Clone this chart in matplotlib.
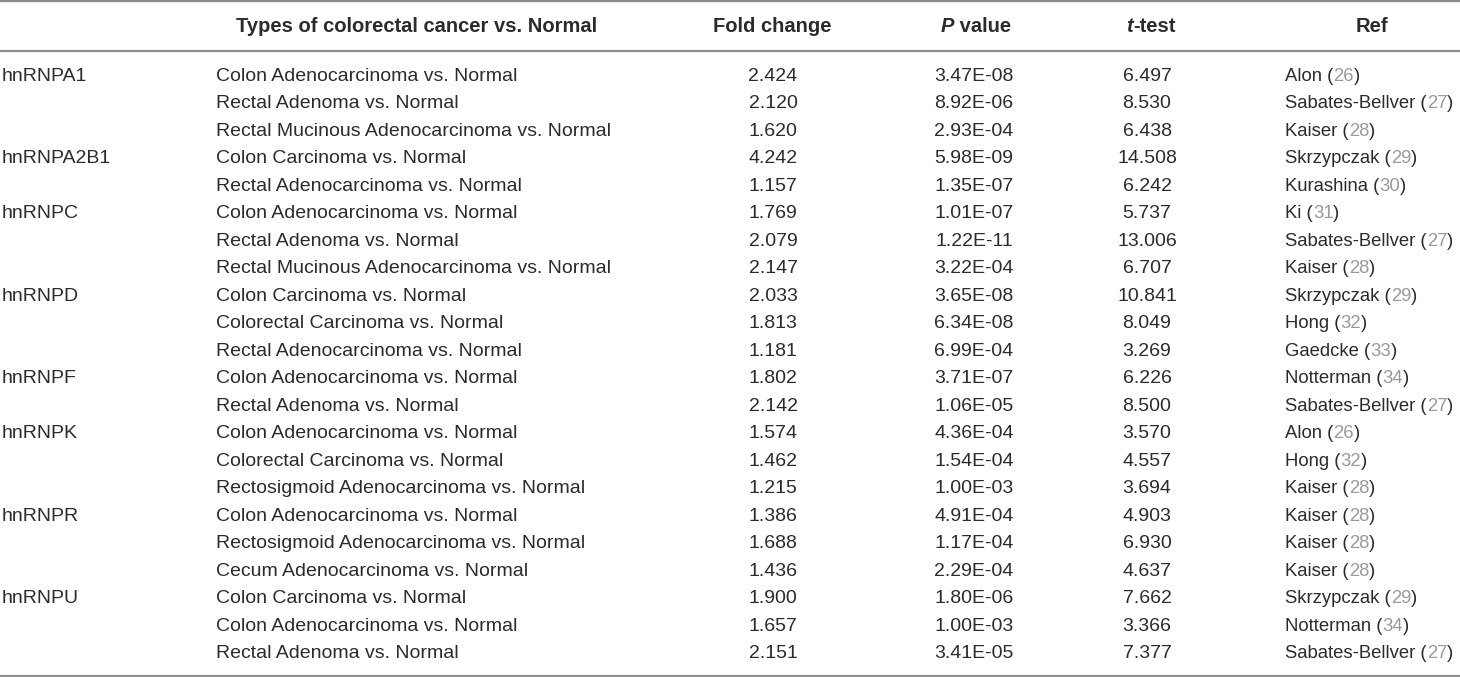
import matplotlib.pyplot as plt

genes = ["hnRNPA1", "", "", "hnRNPA2B1", "", "hnRNPC", "", "", "hnRNPD", "", "",
         "hnRNPF", "", "hnRNPK", "", "", "hnRNPR", "", "", "hnRNPU", "", ""]
types = [
    "Colon Adenocarcinoma vs. Normal",
    "Rectal Adenoma vs. Normal",
    "Rectal Mucinous Adenocarcinoma vs. Normal",
    "Colon Carcinoma vs. Normal",
    "Rectal Adenocarcinoma vs. Normal",
    "Colon Adenocarcinoma vs. Normal",
    "Rectal Adenoma vs. Normal",
    "Rectal Mucinous Adenocarcinoma vs. Normal",
    "Colon Carcinoma vs. Normal",
    "Colorectal Carcinoma vs. Normal",
    "Rectal Adenocarcinoma vs. Normal",
    "Colon Adenocarcinoma vs. Normal",
    "Rectal Adenoma vs. Normal",
    "Colon Adenocarcinoma vs. Normal",
    "Colorectal Carcinoma vs. Normal",
    "Rectosigmoid Adenocarcinoma vs. Normal",
    "Colon Adenocarcinoma vs. Normal",
    "Rectosigmoid Adenocarcinoma vs. Normal",
    "Cecum Adenocarcinoma vs. Normal",
    "Colon Carcinoma vs. Normal",
    "Colon Adenocarcinoma vs. Normal",
    "Rectal Adenoma vs. Normal",
]
fold_change = ["2.424", "2.120", "1.620", "4.242", "1.157", "1.769", "2.079", "2.147",
               "2.033", "1.813", "1.181", "1.802", "2.142", "1.574", "1.462", "1.215",
               "1.386", "1.688", "1.436", "1.900", "1.657", "2.151"]
p_values = ["3.47E-08", "8.92E-06", "2.93E-04", "5.98E-09", "1.35E-07", "1.01E-07",
            "1.22E-11", "3.22E-04", "3.65E-08", "6.34E-08", "6.99E-04", "3.71E-07",
            "1.06E-05", "4.36E-04", "1.54E-04", "1.00E-03", "4.91E-04", "1.17E-04",
            "2.29E-04", "1.80E-06", "1.00E-03", "3.41E-05"]
t_test = ["6.497", "8.530", "6.438", "14.508", "6.242", "5.737", "13.006", "6.707",
          "10.841", "8.049", "3.269", "6.226", "8.500", "3.570", "4.557", "3.694",
          "4.903", "6.930", "4.637", "7.662", "3.366", "7.377"]
ref_names = ["Alon", "Sabates-Bellver", "Kaiser", "Skrzypczak", "Kurashina", "Ki",
             "Sabates-Bellver", "Kaiser", "Skrzypczak", "Hong", "Gaedcke", "Notterman",
             "Sabates-Bellver", "Alon", "Hong", "Kaiser", "Kaiser", "Kaiser", "Kaiser",
             "Skrzypczak", "Notterman", "Sabates-Bellver"]
ref_nums = ["26", "27", "28", "29", "30", "31", "27", "28", "29", "32", "33", "34",
            "27", "26", "32", "28", "28", "28", "28", "29", "34", "27"]

W, H = 1460, 677
plt.rcParams["font.family"] = ["Liberation Sans", "DejaVu Sans"]
fig = plt.figure(figsize=(14.6, 6.77), dpi=100)
ax = fig.add_axes([0, 0, 1, 1])
ax.set_xlim(0, W)
ax.set_ylim(H, 0)
ax.axis("off")

fs = 14.0
fs_ref = 13.3
fs_head = 14.5
dark = "#2b2b2b"
gray = "#9a9a9a"

fig.canvas.draw()
renderer = fig.canvas.get_renderer()


def pieces(x, y, parts, center=False, **kw):
    # draw text parts one after another on a line; parts = [(text, extra kwargs)]
    arts = []
    for s, extra in parts:
        t = ax.text(x, y, s, ha="left", va="center", **kw, **extra)
        x += t.get_window_extent(renderer).width
        arts.append(t)
    if center:
        total = x - arts[0].get_position()[0]
        shift = total / 2
        for t in arts:
            px, py = t.get_position()
            t.set_position((px - shift, py))


# horizontal rules
for y in [1.2, 50.5, 675.5]:
    ax.plot([0, W], [y, y], color="#8c8c8c", lw=1.6, solid_capstyle="butt")

# header row
hy = 27
hkw = dict(fontsize=fs_head, fontweight="bold", color=dark, va="center", ha="center")
ax.text(417, hy, "Types of colorectal cancer vs. Normal", **hkw)
ax.text(772, hy, "Fold change", **hkw)
ax.text(1372, hy, "Ref", **hkw)
bk = dict(fontsize=fs_head, fontweight="bold", color=dark)
pieces(976, hy, [("P", {"style": "italic"}), (" value", {})], center=True, **bk)
pieces(1151, hy, [("t", {"style": "italic"}), ("-test", {})], center=True, **bk)

y0, dy = 76.5, (653.5 - 76.5) / 21
for i in range(len(types)):
    y = y0 + i * dy
    kw = dict(fontsize=fs, color=dark, va="center")
    if genes[i]:
        ax.text(2, y, genes[i], ha="left", **kw)
    ax.text(216, y, types[i], ha="left", **kw)
    ax.text(773, y, fold_change[i], ha="center", **kw)
    ax.text(974, y, p_values[i], ha="center", **kw)
    ax.text(1147, y, t_test[i], ha="center", **kw)
    # ref: name (num), number in gray
    pieces(1285, y, [(ref_names[i] + " (", {"color": dark}),
                     (ref_nums[i], {"color": gray}),
                     (")", {"color": dark})], fontsize=fs_ref)

fig.savefig("out.png", dpi=100)
